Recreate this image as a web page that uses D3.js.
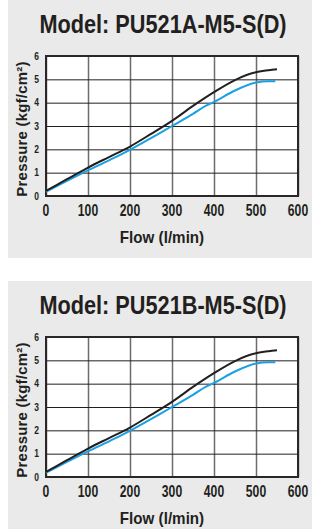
<!DOCTYPE html>
<html>
<head>
<meta charset="utf-8">
<script src="https://cdn.jsdelivr.net/npm/d3@7"></script>
<style>
    body { margin: 0; background: #fff; }
    svg { display: block; }
    text { font-family: "Liberation Sans", Arial, sans-serif; font-weight: bold; fill: #231f20; }
</style>
</head>
<body>
<svg id="chart" width="312" height="529"></svg>
<script>
// models shown, one panel each
const models = ["Model: PU521A-M5-S(D)", "Model: PU521B-M5-S(D)"];

// tick labels
const flowTicks = [0, 100, 200, 300, 400, 500, 600];
const pressureTicks = [0, 1, 2, 3, 4, 5, 6];

// black curve
const blackFlow = [0, 50, 100, 150, 200, 250, 300, 350, 400, 450, 500, 530, 550];
const blackPressure = [0.22, 0.72, 1.22, 1.67, 2.12, 2.66, 3.22, 3.86, 4.45, 4.97, 5.3, 5.39, 5.43];

// blue curve
const blueFlow = [0, 50, 100, 150, 200, 250, 300, 350, 380, 400, 450, 500, 530, 546];
const bluePressure = [0.18, 0.65, 1.1, 1.53, 1.98, 2.48, 3.0, 3.52, 3.86, 4.03, 4.52, 4.86, 4.92, 4.92];

const svg = d3.select("#chart");

const plot = { left: 46, right: 298, top: 56, bottom: 196 };

const xScale = d3.scaleLinear().domain([0, 600]).range([plot.left, plot.right]);
const yScale = d3.scaleLinear().domain([0, 6]).range([plot.bottom, plot.top]);

const line = d3.line()
    .x(d => xScale(d[0]))
    .y(d => yScale(d[1]))
    .curve(d3.curveMonotoneX);

function drawPanel(title, offsetY) {
    const g = svg.append("g").attr("transform", "translate(0," + offsetY + ")");

    // grey card
    g.append("rect")
        .attr("x", 8).attr("y", 0)
        .attr("width", 304).attr("height", 258)
        .attr("fill", "#e9eae9");

    // condensed look: squeeze horizontally
    g.append("text")
        .attr("transform", "translate(163,33) scale(0.835,1)")
        .attr("text-anchor", "middle")
        .attr("font-size", 26)
        .text(title);

    g.append("rect")
        .attr("x", plot.left).attr("y", plot.top)
        .attr("width", plot.right - plot.left)
        .attr("height", plot.bottom - plot.top)
        .attr("fill", "#fff");

    // grid
    g.append("g")
        .attr("transform", "translate(0," + plot.bottom + ")")
        .call(d3.axisBottom(xScale).tickValues(flowTicks).tickSize(-(plot.bottom - plot.top)).tickFormat(""))
        .call(a => a.select(".domain").remove())
        .call(a => a.selectAll("line").attr("stroke", "#6f6b6b").attr("stroke-width", 1.5));

    g.append("g")
        .attr("transform", "translate(" + plot.left + ",0)")
        .call(d3.axisLeft(yScale).tickValues(pressureTicks).tickSize(-(plot.right - plot.left)).tickFormat(""))
        .call(a => a.select(".domain").remove())
        .call(a => a.selectAll("line").attr("stroke", "#231f20").attr("stroke-width", 1));

    g.append("rect")
        .attr("x", plot.left).attr("y", plot.top)
        .attr("width", plot.right - plot.left)
        .attr("height", plot.bottom - plot.top)
        .attr("fill", "none")
        .attr("stroke", "#2b2627")
        .attr("stroke-width", 2);

    // tick labels
    g.selectAll(".xlab")
        .data(flowTicks)
        .enter()
        .append("text")
        .attr("class", "xlab")
        .attr("transform", d => "translate(" + xScale(d) + ",216) scale(0.76,1)")
        .attr("text-anchor", "middle")
        .attr("font-size", 16)
        .text(d => d);

    g.selectAll(".ylab")
        .data(pressureTicks)
        .enter()
        .append("text")
        .attr("class", "ylab")
        .attr("transform", d => "translate(39," + (yScale(d) + 3.5) + ") scale(0.85,1)")
        .attr("text-anchor", "end")
        .attr("font-size", 10)
        .text(d => d);

    g.append("text")
        .attr("transform", "translate(27,129) rotate(-90)")
        .attr("text-anchor", "middle")
        .attr("font-size", 15)
        .attr("letter-spacing", 0.2)
        .text("Pressure (kgf/cm²)");

    g.append("text")
        .attr("transform", "translate(162,243) scale(0.95,1)")
        .attr("text-anchor", "middle")
        .attr("font-size", 16)
        .text("Flow (l/min)");

    g.append("path")
        .datum(blueFlow.map((f, i) => [f, bluePressure[i]]))
        .attr("d", line)
        .attr("fill", "none")
        .attr("stroke", "#1ba1e2")
        .attr("stroke-width", 2);

    g.append("path")
        .datum(blackFlow.map((f, i) => [f, blackPressure[i]]))
        .attr("d", line)
        .attr("fill", "none")
        .attr("stroke", "#231f20")
        .attr("stroke-width", 2);
}

drawPanel(models[0], 0);
drawPanel(models[1], 281);
</script>
</body>
</html>
